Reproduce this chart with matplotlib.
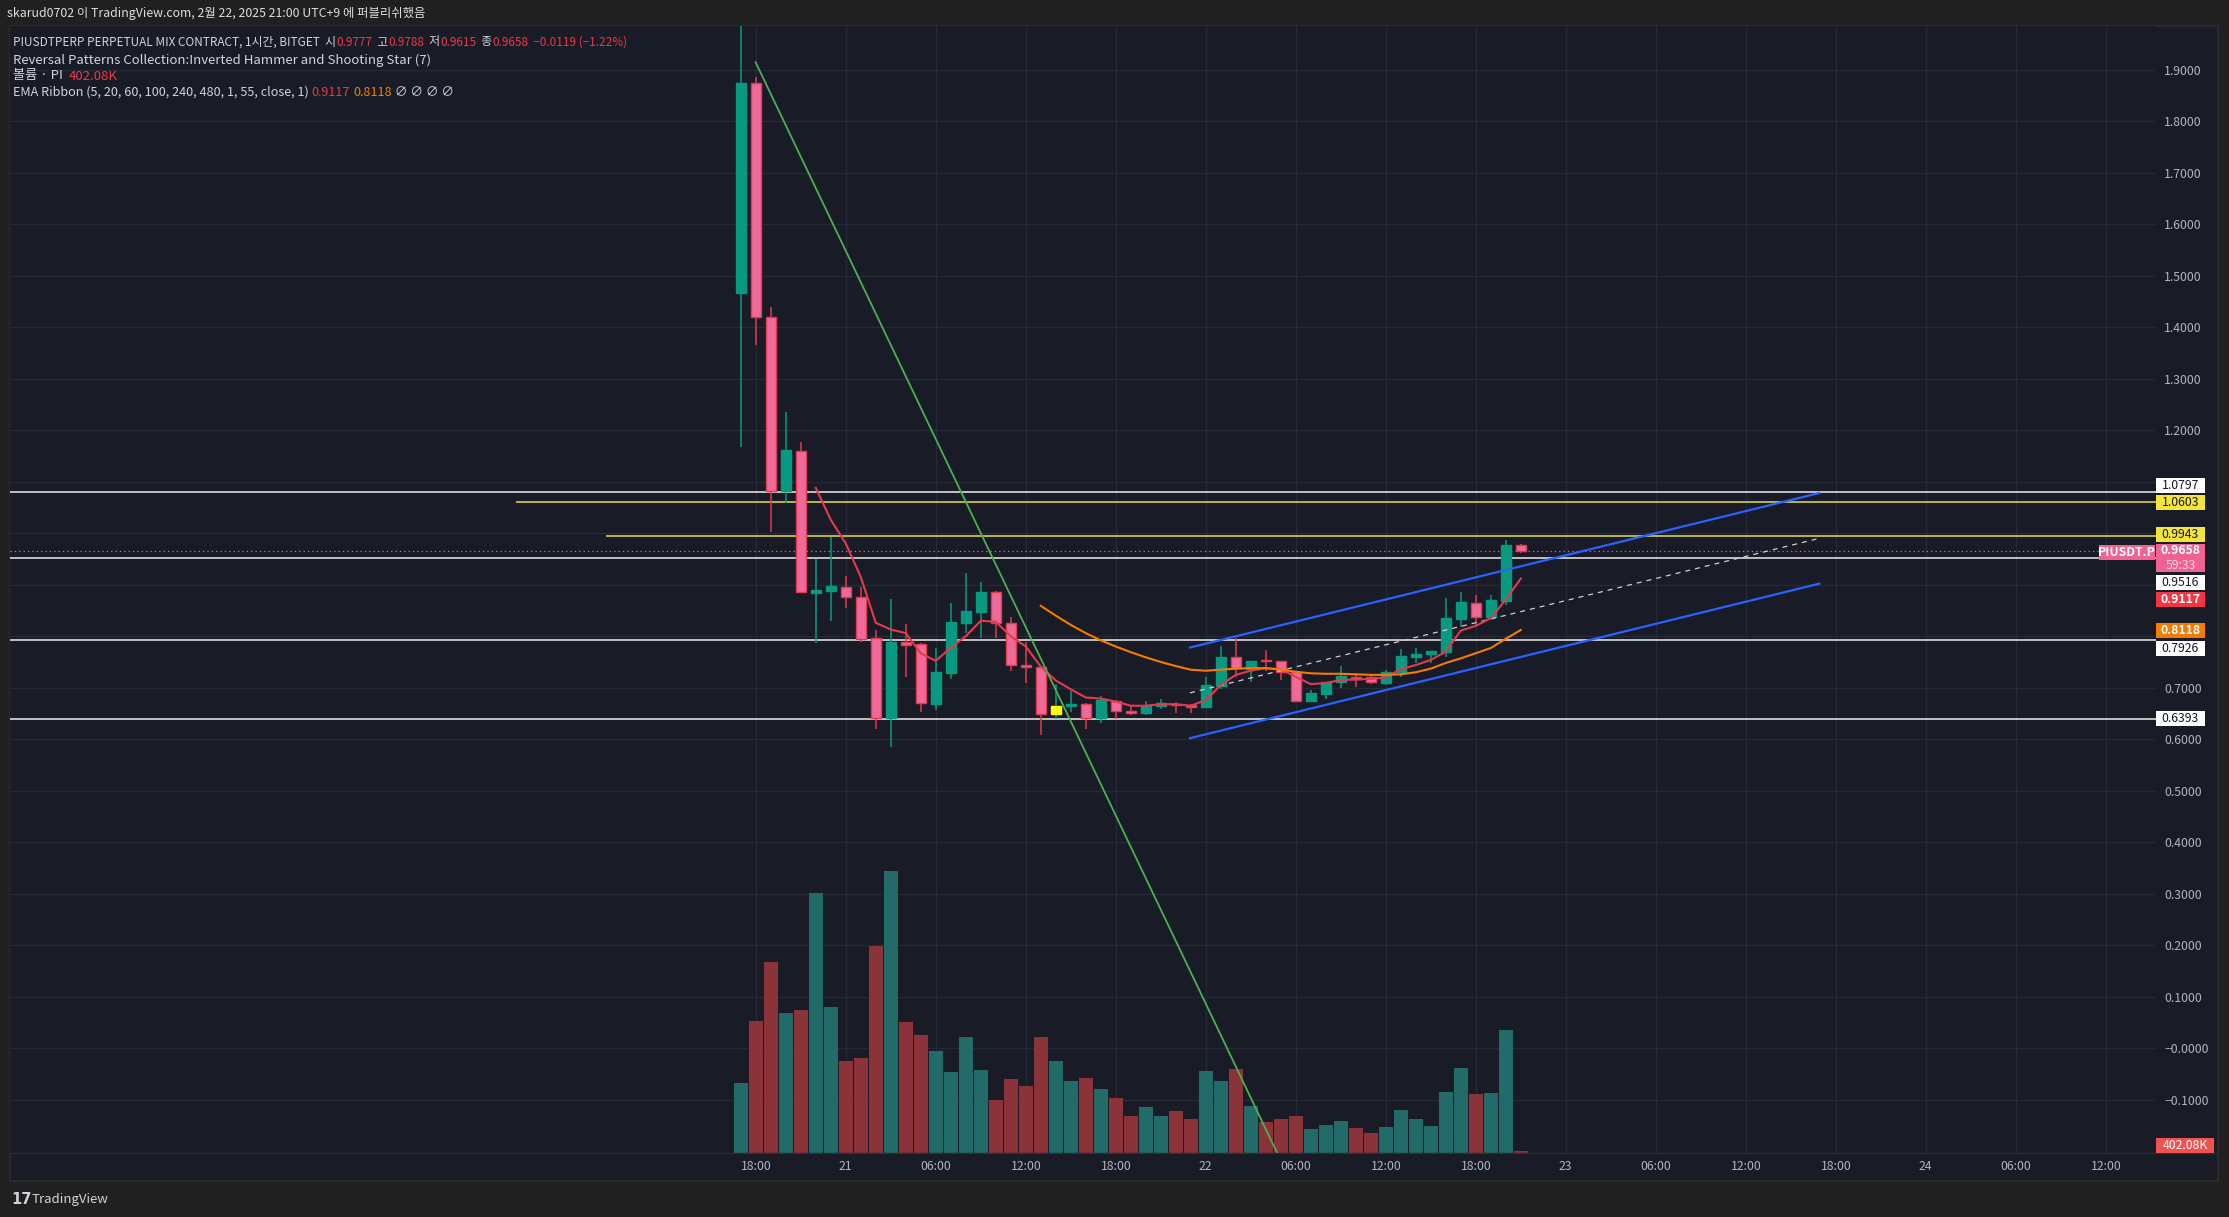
import matplotlib
matplotlib.use('Agg')
import numpy as np
import matplotlib.pyplot as plt
from matplotlib import transforms
from matplotlib.patches import Rectangle
from matplotlib.lines import Line2D

plt.rcParams['font.family'] = ['Noto Sans CJK KR', 'DejaVu Sans']
FS_LEG, FS_AX = 9.5, 8.8

# PIUSDT.P, 1h bars from 2/20 17:00 to 2/22 21:00 (UTC+9)
opens = [1.467, 1.874, 1.420, 1.081, 1.160, 0.884, 0.888, 0.896, 0.877, 0.796,
         0.642, 0.789, 0.784, 0.668, 0.729, 0.826, 0.847, 0.885, 0.825, 0.745,
         0.741, 0.649, 0.665, 0.668, 0.642, 0.675, 0.655, 0.6515, 0.6645, 0.668,
         0.666, 0.663, 0.704, 0.759, 0.736, 0.753, 0.751, 0.730, 0.675, 0.688,
         0.711, 0.720, 0.7214, 0.7097, 0.730, 0.760, 0.765, 0.770, 0.834, 0.865,
         0.838, 0.869, 0.9777]
highs = [2.050, 1.886, 1.440, 1.236, 1.178, 0.949, 0.993, 0.917, 0.896, 0.813,
         0.872, 0.824, 0.786, 0.777, 0.865, 0.922, 0.905, 0.887, 0.838, 0.789,
         0.743, 0.707, 0.694, 0.670, 0.684, 0.677, 0.666, 0.675, 0.6775, 0.673,
         0.668, 0.720, 0.781, 0.796, 0.7525, 0.773, 0.752, 0.731, 0.6955, 0.711,
         0.742, 0.728, 0.724, 0.734, 0.775, 0.7765, 0.772, 0.8736, 0.8864, 0.880,
         0.880, 0.987, 0.9788]
lows = [1.168, 1.365, 1.003, 1.059, 0.883, 0.787, 0.830, 0.854, 0.789, 0.619,
        0.585, 0.721, 0.653, 0.657, 0.716, 0.806, 0.796, 0.796, 0.733, 0.710,
        0.608, 0.639, 0.653, 0.619, 0.632, 0.639, 0.647, 0.647, 0.658, 0.6515,
        0.6515, 0.663, 0.697, 0.721, 0.712, 0.733, 0.715, 0.675, 0.674, 0.6775,
        0.700, 0.702, 0.708, 0.705, 0.721, 0.7486, 0.7486, 0.759, 0.8185, 0.8217,
        0.836, 0.8606, 0.9615]
closes = [1.874, 1.420, 1.081, 1.161, 0.885, 0.889, 0.898, 0.877, 0.795, 0.642,
          0.789, 0.783, 0.670, 0.730, 0.827, 0.849, 0.885, 0.825, 0.745, 0.741,
          0.648, 0.6645, 0.668, 0.642, 0.676, 0.655, 0.650, 0.6645, 0.671, 0.666,
          0.663, 0.7047, 0.759, 0.738, 0.7525, 0.751, 0.730, 0.675, 0.689, 0.711,
          0.7227, 0.7175, 0.7117, 0.730, 0.7616, 0.7654, 0.772, 0.8347, 0.8664, 0.838,
          0.870, 0.9777, 0.9658]
# volume in millions
volumes = [16.8, 31.7, 45.8, 33.6, 34.3, 62.4, 35.0, 22.1, 22.8, 49.8,
           67.7, 31.4, 28.3, 24.5, 19.4, 27.8, 19.9, 12.7, 17.8, 16.1,
           27.8, 22.1, 17.3, 18.0, 15.4, 13.2, 8.9, 11.0, 8.9, 10.1,
           8.2, 19.7, 17.3, 20.2, 11.3, 7.4, 8.2, 8.9, 5.8, 6.7,
           7.7, 6.0, 4.8, 6.2, 10.3, 8.2, 6.5, 14.6, 20.4, 14.2,
           14.4, 29.5, 0.40208]
pattern_bars = [21]   # inverted hammer highlight

ema5_start = 5
ema5 = [1.088, 1.026, 0.980, 0.915, 0.826, 0.813, 0.806, 0.767, 0.752, 0.778,
        0.800, 0.830, 0.828, 0.800, 0.780, 0.741, 0.714, 0.697, 0.681, 0.679,
        0.673, 0.665, 0.665, 0.668, 0.668, 0.665, 0.676, 0.705, 0.725, 0.733,
        0.738, 0.736, 0.721, 0.707, 0.709, 0.715, 0.716, 0.717, 0.720, 0.736,
        0.744, 0.754, 0.770, 0.811, 0.820, 0.835, 0.871, 0.912]
ema20_start = 20
ema20 = [0.859, 0.840, 0.822, 0.806, 0.792, 0.780, 0.769, 0.759, 0.750, 0.742,
         0.735, 0.733, 0.735, 0.737, 0.738, 0.738, 0.735, 0.731, 0.728, 0.727,
         0.727, 0.726, 0.725, 0.725, 0.726, 0.730, 0.737, 0.748, 0.757, 0.767,
         0.777, 0.795, 0.812]

time_ticks = [1, 7, 13, 19, 25, 31, 37, 43, 49, 55, 61, 67, 73, 79, 85, 91]
time_labels = ['18:00', '21', '06:00', '12:00', '18:00', '22', '06:00', '12:00',
               '18:00', '23', '06:00', '12:00', '18:00', '24', '06:00', '12:00']
price_grid = [1.9, 1.8, 1.7, 1.6, 1.5, 1.4, 1.3, 1.2, 1.1, 1.0, 0.9, 0.8, 0.7,
              0.6, 0.5, 0.4, 0.3, 0.2, 0.1, 0.0, -0.1]
price_ticks = [1.9, 1.8, 1.7, 1.6, 1.5, 1.4, 1.3, 1.2, 0.7, 0.6, 0.5, 0.4, 0.3,
               0.2, 0.1, 0.0, -0.1]

white_levels = [1.0797, 0.9516, 0.7926, 0.6393]
yellow_levels = [1.0603, 0.9943]
yellow_from = [-15, -9]
trend_x = [0.99, 35.76]
trend_y = [1.9144, -0.2035]
chan_x = [29.95, 71.9]
chan_top = [0.778, 1.078]
chan_mid = [0.690, 0.990]
chan_bot = [0.602, 0.902]
last_price = 0.9658
ema5_last = 0.9117
ema20_last = 0.8118

W, H = 2229, 1217
BG = '#191c27'
OUT = '#202020'
GRID = '#262a36'
TXT = '#b2b5be'
LEG = '#d1d4dc'
RED = '#f23645'
ORANGE = '#f57c00'
PINK = '#f06292'
UP = '#089981'
DN_FACE = '#f06a99'
DN_EDGE = '#e23a4e'

fig = plt.figure(figsize=(W / 100, H / 100), dpi=100, facecolor=OUT)

def fx(px):
    return px / W

def fy(py):
    return 1 - py / H

# chart panel (behind everything)
fig.add_artist(Rectangle((fx(10), fy(1181)), fx(2218) - fx(10), fy(26) - fy(1181),
                         transform=fig.transFigure, facecolor=BG, edgecolor='#2e2e2e',
                         lw=1.2, zorder=-5))

L, R, T, B = 10, 2156, 26, 1153
rect = [fx(L), fy(B), fx(R) - fx(L), fy(T) - fy(B)]
ax = fig.add_axes(rect)
ax.set_facecolor(BG)
for s in ax.spines.values():
    s.set_visible(False)
xlim = (-48.72, 94.35)
ax.set_xlim(*xlim)
ax.set_ylim(-0.2035, 1.9849)

for g in price_grid:
    ax.axhline(g, color=GRID, lw=1.0, zorder=0)
for t in time_ticks:
    ax.axvline(t, color=GRID, lw=1.0, zorder=0)

ax.set_xticks(time_ticks, time_labels)
ax.tick_params(axis='x', length=0, pad=5, colors=TXT, labelsize=FS_AX)
ax.yaxis.tick_right()

def fmt(v):
    if v <= 0:
        return '\u2212' + f'{abs(v):.4f}'
    return f'{v:.4f}'

ax.set_yticks(price_ticks, [fmt(v) for v in price_ticks])
ax.tick_params(axis='y', length=0, pad=6, colors=TXT, labelsize=FS_AX)

# horizontal levels
ax.hlines(white_levels, xlim[0], xlim[1], colors='#eeeeee', lw=1.1, zorder=2)
ax.hlines(yellow_levels, yellow_from, xlim[1], colors='#e6df4c', lw=1.1, zorder=2)
ax.axhline(last_price, color=PINK, lw=0.9, ls=(0, (1, 2.5)), zorder=2)

# parallel channel
ax.plot(chan_x, chan_top, color='#2962ff', lw=1.6, zorder=5)
ax.plot(chan_x, chan_bot, color='#2962ff', lw=1.6, zorder=5)
ax.plot(chan_x, chan_mid, color='#d0d0d0', lw=0.9, ls=(0, (4, 4)), zorder=5)

# candles
o = np.array(opens); c = np.array(closes)
idx = np.arange(len(o))
up = c >= o
face = np.where(up, UP, DN_FACE).astype(object)
edge = np.where(up, UP, DN_EDGE).astype(object)
wick = np.where(up, UP, DN_EDGE)
for k in pattern_bars:
    face[k] = '#ffff00'
    edge[k] = '#ffff00'
ax.vlines(idx, lows, highs, colors=wick, lw=1.1, zorder=3)
ax.bar(idx, np.maximum(np.abs(c - o), 0.003), bottom=np.minimum(o, c), width=0.7,
       color=list(face), edgecolor=list(edge), lw=1.0, zorder=4)

# EMA ribbon
ax.plot(np.arange(ema5_start, ema5_start + len(ema5)), ema5, color='#e23a4e', lw=1.5, zorder=6)
ax.plot(np.arange(ema20_start, ema20_start + len(ema20)), ema20, color=ORANGE, lw=1.5, zorder=6)

# volume overlay
axv = fig.add_axes(rect, sharex=ax)
axv.patch.set_visible(False)
axv.axis('off')
vcol = np.where(up, '#226b68', '#8a3439')
axv.bar(idx, volumes, width=0.93, color=vcol, zorder=2)
axv.plot(trend_x, trend_y, color='#4caf50', lw=1.3, transform=ax.transData, zorder=5)
axv.set_ylim(0, 270.6)

fig.add_artist(Line2D([fx(10), fx(2218)], [fy(1153), fy(1153)], color='#2a2d38', lw=1.0))

# price-scale tags
fig.canvas.draw()

def tag(price, text, face, fg, shift=0.0, x0=None, w=49, h=15, bold=False):
    xd0 = ax.bbox.x1 if x0 is None else x0
    yd = ax.transData.transform((0, price))[1] - shift
    fig.add_artist(Rectangle((xd0, yd - h / 2), w, h, transform=transforms.IdentityTransform(),
                             facecolor=face, edgecolor='none', zorder=10))
    fig.text((xd0 + w / 2) / W, yd / H, text, color=fg, ha='center', va='center',
             fontsize=FS_AX, fontweight='bold' if bold else 'normal', zorder=11)

tag(1.0797, '1.0797', '#ffffff', '#131722', shift=-6.7)
tag(1.0603, '1.0603', '#f5e43a', '#131722')
tag(0.9943, '0.9943', '#f5e43a', '#131722', shift=-1.6)
tag(0.9516, '0.9516', '#ffffff', '#131722', shift=24.7)
tag(ema5_last, f'{ema5_last:.4f}', RED, '#ffffff', shift=21.3, bold=True)
tag(ema20_last, f'{ema20_last:.4f}', ORANGE, '#ffffff', bold=True)
tag(0.7926, '0.7926', '#ffffff', '#131722', shift=8.3)
tag(0.6393, '0.6393', '#ffffff', '#131722')
# last price (two lines) + symbol tag
yd = ax.transData.transform((0, last_price))[1]
fig.add_artist(Rectangle((ax.bbox.x1, yd - 21.5), 49, 28.3, transform=transforms.IdentityTransform(),
                         facecolor=PINK, edgecolor='none', zorder=10))
fig.text((ax.bbox.x1 + 24.5) / W, yd / H, f'{last_price:.4f}', color='white', ha='center',
         va='center', fontsize=FS_AX, fontweight='bold', zorder=11)
fig.text((ax.bbox.x1 + 24.5) / W, (yd - 14.5) / H, '59:33', color='#fbd3e0', ha='center',
         va='center', fontsize=FS_AX, zorder=11)
tag(last_price, 'PIUSDT.P', PINK, '#ffffff', shift=1.7, x0=ax.bbox.x1 - 57, w=56, bold=True)
# volume tag
yb = axv.transData.transform((0, 0))[1]
fig.add_artist(Rectangle((axv.bbox.x1, yb), 58, 15, transform=transforms.IdentityTransform(),
                         facecolor='#ef5350', edgecolor='none', zorder=10))
fig.text((axv.bbox.x1 + 29) / W, (yb + 7.5) / H, f'{volumes[-1] * 1000:.2f}K', color='white',
         ha='center', va='center', fontsize=FS_AX, zorder=11)

# legend lines: coloured runs chained one after another
def chain(x, y, parts, size=FS_LEG):
    t = fig.text(x, y, parts[0][0], color=parts[0][1], fontsize=size, va='center', ha='left')
    for s, col in parts[1:]:
        t = fig.add_artist(plt.Annotation(s, xy=(1, 0), xycoords=t, va='bottom', ha='left',
                                          color=col, fontsize=size))
    return t

chain(fx(7), fy(14), [('skarud0702 이 TradingView.com, 2월 22, 2025 21:00 UTC+9 에 퍼블리쉬했음', '#dddddd')],
      size=8.9)
chain(fx(13), fy(42), [('PIUSDTPERP PERPETUAL MIX CONTRACT, 1시간, BITGET  시', LEG), ('0.9777', RED),
                       ('  고', LEG), ('0.9788', RED), ('  저', LEG), ('0.9615', RED),
                       ('  종', LEG), ('0.9658', RED), ('  \u22120.0119 (\u22121.22%)', RED)],
      size=8.5)
chain(fx(13), fy(60), [('Reversal Patterns Collection:Inverted Hammer and Shooting Star (7)', LEG)])
chain(fx(13), fy(76), [('볼륨 · PI  ', LEG), ('402.08K', RED)])
chain(fx(13), fy(92), [('EMA Ribbon (5, 20, 60, 100, 240, 480, 1, 55, close, 1) ', LEG),
                       (f'{ema5_last:.4f}', RED), (' ', LEG), (f'{ema20_last:.4f}', ORANGE),
                       (' \u2205 \u2205 \u2205 \u2205', LEG)], size=9.1)

# footer logo
fig.text(fx(11), fy(1200), '17', color=LEG, fontsize=10.5, fontweight='bold', va='center',
         family='DejaVu Sans')
fig.text(fx(32), fy(1200), 'TradingView', color=LEG, fontsize=9.5, va='center')

fig.savefig('out.png', dpi=100, facecolor=OUT)
